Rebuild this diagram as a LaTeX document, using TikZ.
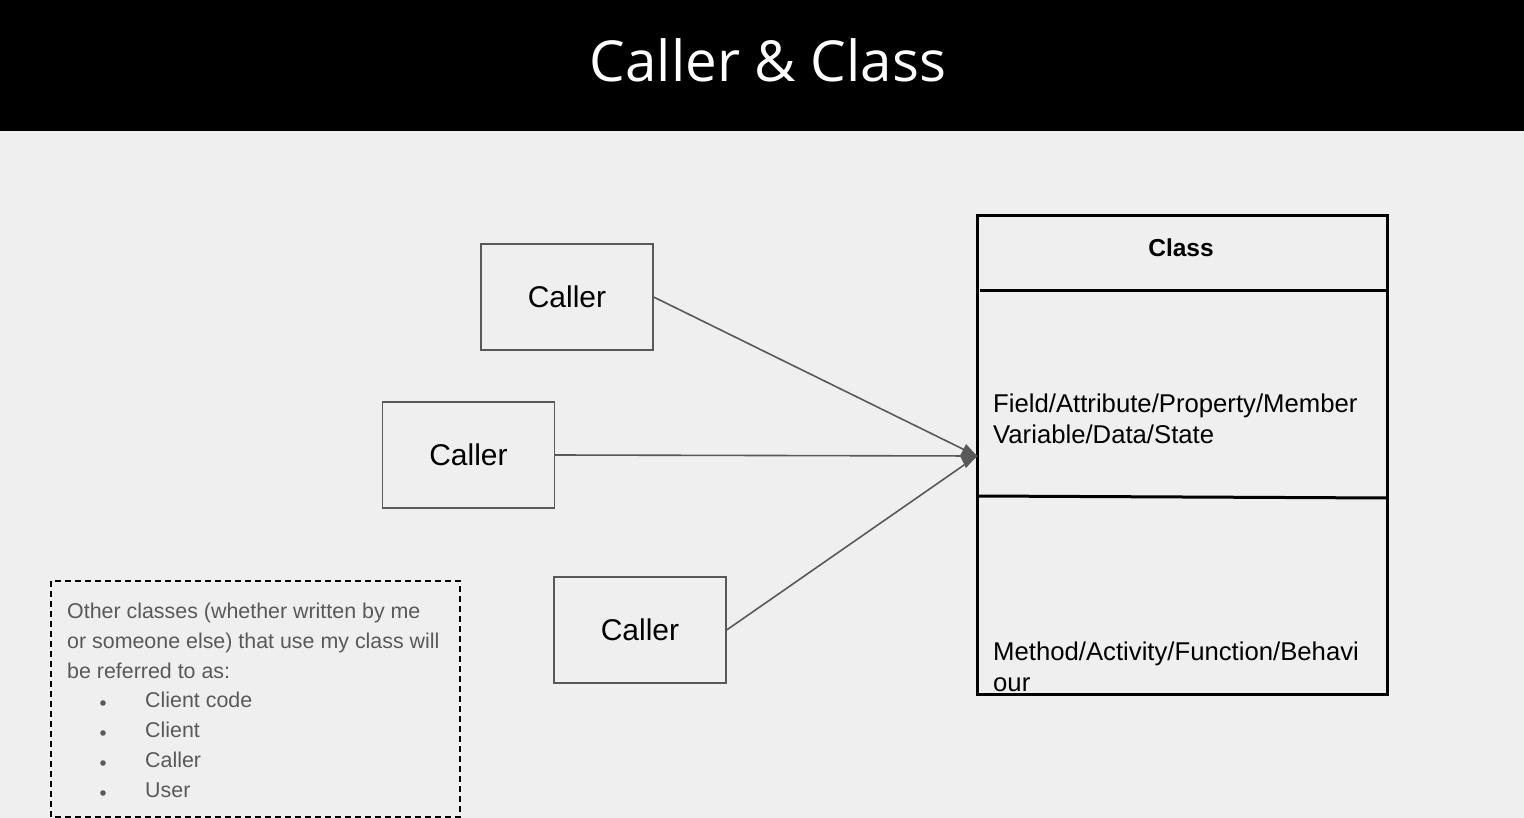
\documentclass[tikz,border=0pt]{standalone}
\usepackage{fontspec}
\setmainfont{Liberation Sans}
\newfontfamily\titlefont{Open Sans}
\usetikzlibrary{arrows.meta,calc}
\definecolor{bg}{HTML}{EFEFEF}
\definecolor{greyline}{HTML}{595959}
\tikzset{
  callerbox/.style={draw=greyline,line width=1.3pt,minimum width=172pt,minimum height=106pt,inner sep=0pt,font=\fontsize{30}{36}\selectfont},
  conn/.style={draw=greyline,line width=1.6pt},
  listtext/.style={anchor=base west,inner sep=0pt,text=greyline,font=\fontsize{21.4}{25}\selectfont},
  classtext/.style={anchor=base west,inner sep=0pt,font=\fontsize{25.7}{30}\selectfont},
}
\begin{document}
\begin{tikzpicture}[x=1pt,y=-1pt]
\useasboundingbox (0,0) rectangle (1524,818);
\fill[bg] (0,0) rectangle (1524,818);
\fill[black] (0,0) rectangle (1524,131);
\node[text=white,font=\titlefont\fontsize{56.5}{66}\selectfont,inner sep=0pt] (title) at (768,60) {Caller \& Class};

% class box
\draw[line width=3pt] (977,216) rectangle (1387,694);
\draw[line width=3pt] (980,291) -- (1387,291);
\draw[line width=3pt] (978,496) -- (1387,498);
\node[font=\bfseries\fontsize{24.5}{28}\selectfont,inner sep=0pt] (classname) at (1181,248) {Class};
\coordinate (target) at (977,456);
\node[classtext] (field1) at (993,412) {Field/Attribute/Property/Member};
\node[classtext] (field2) at (993,443) {Variable/Data/State};
\node[classtext] (meth1) at (993,660) {Method/Activity/Function/Behavi};
\node[classtext] (meth2) at (993,691) {our};

% callers
\node[callerbox] (c1) at (567,297) {Caller};
\node[callerbox] (c2) at (468.5,455) {Caller};
\node[callerbox] (c3) at (640,630) {Caller};

\draw[conn] (c1.east) -- (target);
\draw[conn] (c3.east) -- (target);
\draw[conn,-{Kite[length=17pt,width=24pt,inset=6pt]}] (c2.east) -- (target);

% dashed note
\draw[line width=1.6pt,dashed,dash pattern=on 6pt off 4pt] (51,581) rectangle (460,817);
\node[listtext] (n1) at (67,618) {Other classes (whether written by me};
\node[listtext] (n2) at (67,648) {or someone else) that use my class will};
\node[listtext] (n3) at (67,678) {be referred to as:};
\foreach \i/\t [count=\k] in {0/Client code,1/Client,2/Caller,3/User}{
  \fill[greyline] (103,{703+30*\i}) circle (2.8pt);
  \node[listtext] (b\k) at (145,{707+30*\i}) {\t};
}
\end{tikzpicture}
\end{document}
